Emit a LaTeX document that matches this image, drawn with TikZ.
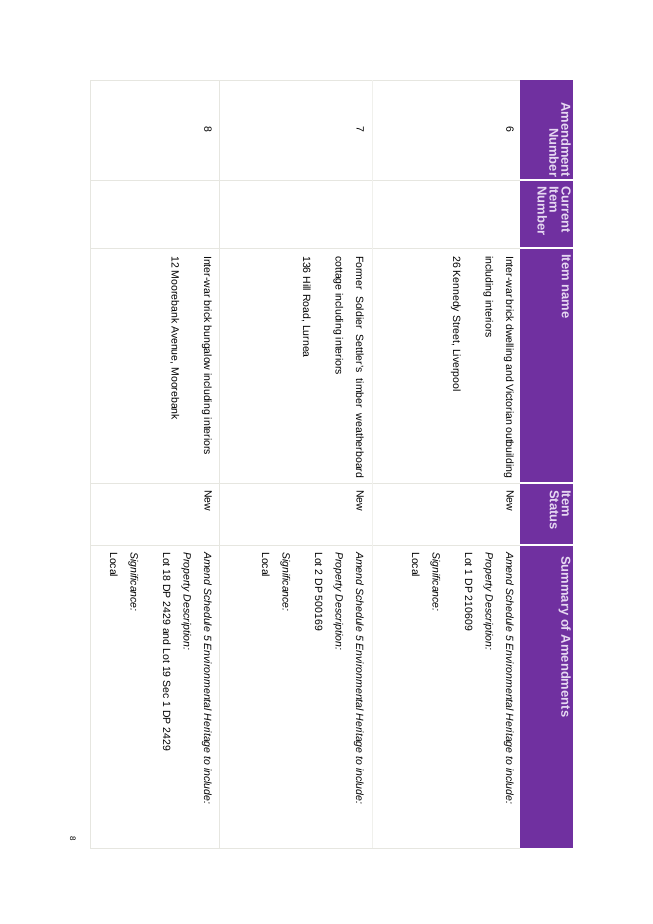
\documentclass[tikz,border=0pt]{standalone}
\usepackage{fontspec}
\setmainfont{Liberation Sans}
\definecolor{hdr}{HTML}{7030A0}
\definecolor{hdrtxt}{HTML}{E6D8F2}
\definecolor{grid}{HTML}{E6E6E0}
\begin{document}
\begin{tikzpicture}[x=1pt,y=-1pt,
  cell/.style={rotate=-90,anchor=north west,inner sep=0pt,font=\fontsize{10.5}{20.5}\selectfont},
  head/.style={rotate=-90,anchor=north west,inner sep=0pt,text=hdrtxt,font=\fontsize{13}{12}\selectfont\bfseries},
  gl/.style={draw=grid,line width=0.8pt}]
\useasboundingbox (0,0) rectangle (653,924);
\fill[white] (0,0) rectangle (653,924);
% header band
\fill[hdr] (520,80) rectangle (573,848);
\foreach \y in {180,248,483,545} \draw[white,line width=1.5pt] (520,\y) -- (573,\y);
% grid
\foreach \y in {80,180,248,483,545,848} \draw[gl] (90,\y) -- (520,\y);
\draw[gl] (90,80) -- (90,848);
\draw[gl] (219,80) -- (219,848);
\draw[draw=grid!60,line width=0.8pt] (372,80) -- (372,848);
% header text
\node[head,align=right,text width=92pt] (h1) at (571,85) {Amendment\\Number};
\node[head,align=left] (h2) at (571,186) {Current\\Item\\Number};
\node[head] (h3) at (571,254) {Item name};
\node[head,align=left] (h4) at (571,490) {Item\\Status};
\node[head] (h5) at (571,556) {Summary of Amendments};
% row 6
\node[cell] (n6) at (514,126) {6};
\node[cell,text width=222pt,align=justify] (i6) at (514,256) {Inter-war brick dwelling and Victorian outbuilding including interiors\\[12pt]26 Kennedy Street, Liverpool};
\node[cell] (s6) at (514,490) {New};
\node[cell,align=left] (m6) at (514,552) {\itshape Amend Schedule 5 Environmental Heritage to include:\\\itshape Property Description:\\Lot 1 DP 210609\\[12pt]\itshape Significance:\\Local};
% row 7
\node[cell] (n7) at (364,126) {7};
\node[cell,text width=222pt,align=justify] (i7) at (364,256) {Former Soldier Settler's timber weatherboard cottage including interiors\\[12pt]136 Hill Road, Lurnea};
\node[cell] (s7) at (364,490) {New};
\node[cell,align=left] (m7) at (364,552) {\itshape Amend Schedule 5 Environmental Heritage to include:\\\itshape Property Description:\\Lot 2 DP 500169\\[12pt]\itshape Significance:\\Local};
% row 8
\node[cell] (n8) at (212,126) {8};
\node[cell,text width=222pt,align=justify] (i8) at (212,256) {Inter-war brick bungalow including interiors\\[12pt]12 Moorebank Avenue, Moorebank};
\node[cell] (s8) at (212,490) {New};
\node[cell,align=left] (m8) at (212,552) {\itshape Amend Schedule 5 Environmental Heritage to include:\\\itshape Property Description:\\Lot 18 DP 2429 and Lot 19 Sec 1 DP 2429\\[12pt]\itshape Significance:\\Local};
% page number
\node[cell,font=\fontsize{8}{9}\selectfont] (pg) at (76,836) {8};
\end{tikzpicture}
\end{document}
